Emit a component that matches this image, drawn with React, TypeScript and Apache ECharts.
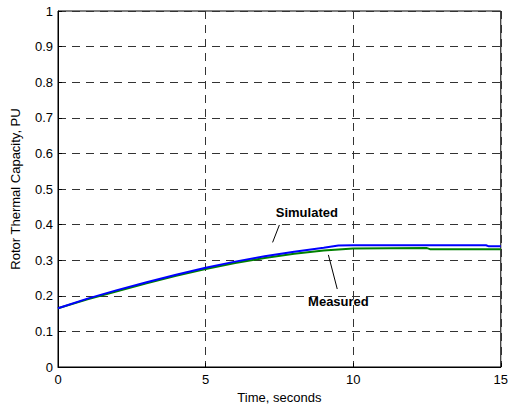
import React, { useEffect, useRef } from "react";
import * as echarts from "echarts";

const timeSim = [0, 1, 2, 3, 4, 5, 6, 7, 8, 9, 9.5, 10, 12, 14.5, 14.6, 15];
const valSim = [0.165, 0.192, 0.216, 0.238, 0.259, 0.279, 0.296, 0.311, 0.324, 0.335, 0.341, 0.342, 0.342, 0.342, 0.339, 0.339];
const timeMeas = [0, 1, 2, 3, 4, 5, 6, 7, 8, 9, 10, 12.5, 12.6, 15];
const valMeas = [0.165, 0.19, 0.213, 0.235, 0.256, 0.275, 0.292, 0.306, 0.318, 0.327, 0.333, 0.334, 0.331, 0.331];
const xTicks = [0, 5, 10, 15];
const yTickStep = 0.1;

export default function App() {
  const ref = useRef<HTMLDivElement>(null);
  useEffect(() => {
    if (!ref.current) return;
    const chart = echarts.init(ref.current, null, { renderer: "svg" });
    const font = "Liberation Sans, Arial, Helvetica, sans-serif";
    const fs = 13;
    chart.setOption({
      animation: false,
      backgroundColor: "#fff",
      grid: { left: 58, right: 10, top: 11, bottom: 42, show: true, borderColor: "#000", borderWidth: 1 },
      xAxis: {
        type: "value",
        min: xTicks[0],
        max: xTicks[xTicks.length - 1],
        interval: 5,
        name: "Time, seconds",
        nameLocation: "middle",
        nameGap: 22,
        nameTextStyle: { color: "#000", fontSize: fs, fontFamily: font },
        axisLine: { show: true, lineStyle: { color: "#000", width: 1 } },
        axisTick: { show: true, inside: true, length: 4, lineStyle: { color: "#000" } },
        axisLabel: { color: "#000", fontSize: fs, fontFamily: font, margin: 6 },
        splitLine: { show: true, lineStyle: { color: "#333", type: [8, 6], width: 1 } },
      },
      yAxis: {
        type: "value",
        min: 0,
        max: 1,
        interval: yTickStep,
        name: "Rotor Thermal Capacity, PU",
        nameLocation: "middle",
        nameGap: 36,
        nameTextStyle: { color: "#000", fontSize: fs, fontFamily: font },
        axisLine: { show: true, lineStyle: { color: "#000", width: 1 } },
        axisTick: { show: true, inside: true, length: 4, lineStyle: { color: "#000" } },
        axisLabel: {
          color: "#000",
          fontSize: fs,
          fontFamily: font,
          margin: 5,
          formatter: (v: number) => (Math.round(v * 10) / 10).toString(),
        },
        splitLine: { show: true, lineStyle: { color: "#333", type: [8, 6], width: 1 } },
      },
      series: [
        {
          name: "Measured",
          type: "line",
          data: timeMeas.map((t, i) => [t, valMeas[i]]),
          showSymbol: false,
          lineStyle: { color: "#008000", width: 2 },
          markLine: {
            silent: true,
            symbol: ["none", "none"],
            label: { show: false },
            lineStyle: { color: "#000", width: 1, type: "solid" },
            data: [[{ coord: [9.16, 0.315] }, { coord: [9.46, 0.219] }]],
          },
          markPoint: {
            symbol: "circle",
            symbolSize: 0,
            data: [
              {
                coord: [9.5, 0.183],
                label: { show: true, formatter: "Measured", position: "inside", color: "#000", fontWeight: "bold", fontSize: fs, fontFamily: font },
              },
            ],
          },
        },
        {
          name: "Simulated",
          type: "line",
          data: timeSim.map((t, i) => [t, valSim[i]]),
          showSymbol: false,
          lineStyle: { color: "#0000ff", width: 2 },
          markLine: {
            silent: true,
            symbol: ["none", "none"],
            label: { show: false },
            lineStyle: { color: "#000", width: 1, type: "solid" },
            data: [[{ coord: [7.5, 0.399] }, { coord: [7.27, 0.35] }]],
          },
          markPoint: {
            symbol: "circle",
            symbolSize: 0,
            data: [
              {
                coord: [8.43, 0.433],
                label: { show: true, formatter: "Simulated", position: "inside", color: "#000", fontWeight: "bold", fontSize: fs, fontFamily: font },
              },
            ],
          },
        },
      ],
    });
    return () => chart.dispose();
  }, []);
  return <div ref={ref} style={{ width: 511, height: 409, position: "absolute", left: 0, top: 0 }} />;
}
